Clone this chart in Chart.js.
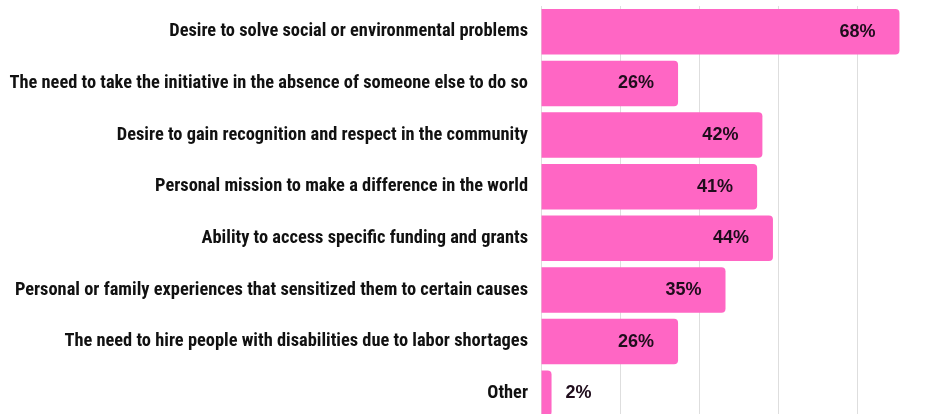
<!DOCTYPE html>
<html>
<head>
<meta charset="utf-8">
<script src="https://cdn.jsdelivr.net/npm/chart.js@4"></script>
<style>
  html, body { margin: 0; padding: 0; background: #ffffff; overflow: hidden; }
  #wrap { position: relative; width: 926px; height: 425px; }
</style>
</head>
<body>
<div id="wrap"><canvas id="chart"></canvas></div>
<script>
// Motivations (share of respondents, %)
const categories = [
  "Desire to solve social or environmental problems",
  "The need to take the initiative in the absence of someone else to do so",
  "Desire to gain recognition and respect in the community",
  "Personal mission to make a difference in the world",
  "Ability to access specific funding and grants",
  "Personal or family experiences that sensitized them to certain causes",
  "The need to hire people with disabilities due to labor shortages",
  "Other"
];
const shares = [68, 26, 42, 41, 44, 35, 26, 2];
const valueLabels = ["68%", "26%", "42%", "41%", "44%", "35%", "26%", "2%"];
const gridTicks = [15, 30, 45, 60];

const PINK = "#ff66c4";
const LABEL_DARK = "#1f0d1c";

// Writes each bar's value near its end: inside for long bars, just past the end for short ones
const barValueLabels = {
  id: "barValueLabels",
  afterDatasetsDraw(chart) {
    const ctx = chart.ctx;
    const meta = chart.getDatasetMeta(0);
    ctx.save();
    ctx.font = "bold 18px 'Liberation Sans', Arial, sans-serif";
    ctx.fillStyle = LABEL_DARK;
    ctx.textBaseline = "middle";
    meta.data.forEach((bar, i) => {
      const text = valueLabels[i];
      if (shares[i] < 10) {
        ctx.textAlign = "left";
        ctx.fillText(text, bar.x + 14, bar.y);
      } else {
        ctx.textAlign = "right";
        ctx.fillText(text, bar.x - 24, bar.y);
      }
    });
    ctx.restore();
  }
};

new Chart(document.getElementById("chart"), {
  type: "bar",
  data: {
    labels: categories,
    datasets: [{
      data: shares,
      backgroundColor: PINK,
      borderWidth: 0,
      borderRadius: 4,
      borderSkipped: "start",
      barPercentage: 0.88,
      categoryPercentage: 1.0
    }]
  },
  options: {
    indexAxis: "y",
    responsive: true,
    maintainAspectRatio: false,
    animation: false,
    layout: { padding: { top: 6, right: 16, bottom: 6, left: 0 } },
    plugins: {
      legend: { display: false },
      tooltip: { enabled: false }
    },
    scales: {
      x: {
        min: 0,
        max: 70,
        ticks: { display: false, stepSize: 15 },
        border: { display: false },
        grid: {
          drawTicks: false,
          lineWidth: 1,
          color: (c) => gridTicks.includes(c.tick && c.tick.value) ? "#dedede" : "rgba(0,0,0,0)"
        }
      },
      y: {
        afterFit(scale) { scale.width = 541; },
        border: { display: true, color: "#dedede", width: 1 },
        grid: {
          display: true,
          drawOnChartArea: false,
          drawTicks: true,
          tickLength: 13,
          color: "rgba(0,0,0,0)"
        },
        ticks: {
          padding: 0,
          color: "#111111",
          font: { family: "'Roboto Condensed', Roboto, sans-serif", weight: "bold", size: 18.4, lineHeight: 0.6 }
        }
      }
    }
  },
  plugins: [barValueLabels]
});
</script>
</body>
</html>
